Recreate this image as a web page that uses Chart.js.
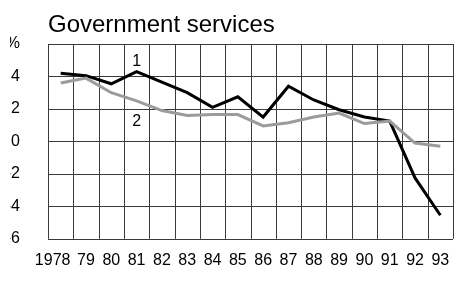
<!DOCTYPE html>
<html>
<head>
<meta charset="utf-8">
<script src="https://cdn.jsdelivr.net/npm/chart.js@4"></script>
<style>
    html, body { margin: 0; padding: 0; background: #fff; }
    #chartBox { width: 454px; height: 284px; }
</style>
</head>
<body>
<div id="chartBox"><canvas id="govChart" width="454" height="284"></canvas></div>
<script>
// Chart data
const years = ['1978', '79', '80', '81', '82', '83', '84', '85', '86', '87', '88', '89', '90', '91', '92', '93'];
const series1 = [4.2, 4.05, 3.55, 4.3, 3.65, 3.0, 2.1, 2.75, 1.5, 3.4, 2.55, 1.95, 1.5, 1.25, -2.25, -4.55];
const series2 = [3.6, 3.9, 3.0, 2.5, 1.9, 1.6, 1.65, 1.65, 0.95, 1.15, 1.5, 1.75, 1.1, 1.25, -0.1, -0.3];
const yMin = -6, yMax = 6, yStep = 2;
const lineLabels = [
    { text: '1', year: '81', value: 4.9 },
    { text: '2', year: '81', value: 1.2 }
];

const fontFamily = '"Liberation Sans", Arial, Helvetica, sans-serif';
const gridColor = '#3a3a3a';

// Title and the small "1" / "2" series labels, then the cell grid painted underneath everything
const textPlugin = {
    id: 'chartTexts',
    afterDraw(chart) {
        const { ctx, scales, chartArea } = chart;
        ctx.save();
        ctx.fillStyle = '#000';
        ctx.font = '24px ' + fontFamily;
        ctx.textAlign = 'left';
        ctx.textBaseline = 'alphabetic';
        ctx.fillText('Government services', chartArea.left, 32);
        ctx.font = '16px ' + fontFamily;
        ctx.textAlign = 'center';
        ctx.textBaseline = 'middle';
        lineLabels.forEach(l => {
            ctx.fillText(l.text, scales.x.getPixelForValue(years.indexOf(l.year)), scales.y.getPixelForValue(l.value));
        });

        // grid goes behind the lines and labels already drawn
        ctx.globalCompositeOperation = 'destination-over';
        ctx.strokeStyle = gridColor;
        ctx.lineWidth = 1;
        ctx.beginPath();
        for (let i = 0; i <= years.length; i++) {
            const px = Math.round(scales.x.getPixelForValue(i - 0.5)) + 0.5;
            ctx.moveTo(px, chartArea.top);
            ctx.lineTo(px, chartArea.bottom);
        }
        for (let v = yMin; v <= yMax; v += yStep) {
            const py = Math.round(scales.y.getPixelForValue(v)) + 0.5;
            ctx.moveTo(chartArea.left, py);
            ctx.lineTo(chartArea.right, py);
        }
        ctx.stroke();
        ctx.restore();
    }
};

new Chart(document.getElementById('govChart'), {
    type: 'line',
    data: {
        labels: years,
        datasets: [
            { label: '2', data: series2, borderColor: '#9b9b9b', borderWidth: 3, pointRadius: 0, tension: 0 },
            { label: '1', data: series1, borderColor: '#000', borderWidth: 3, pointRadius: 0, tension: 0 }
        ]
    },
    options: {
        responsive: false,
        animation: false,
        layout: { padding: { left: 10, right: 1, top: 44, bottom: 10 } },
        scales: {
            x: {
                offset: true,
                grid: { display: false },
                border: { display: false },
                ticks: {
                    color: '#000', padding: 4, maxRotation: 0, autoSkip: false, font: { family: fontFamily, size: 16 },
                    callback: (value, i) => i === 0 ? years[0] + '\u2002\u2002' : years[i]
                }
            },
            y: {
                min: yMin, max: yMax,
                grid: { display: false },
                border: { display: false },
                afterFit: axis => { axis.width = 38; },
                ticks: {
                    stepSize: yStep,
                    color: '#000', padding: 20, font: { family: fontFamily, size: 16 },
                    callback: value => value === yMax ? '%' : value
                }
            }
        },
        plugins: {
            legend: { display: false },
            tooltip: { enabled: false },
            title: { display: false }
        }
    },
    plugins: [textPlugin]
});
</script>
</body>
</html>
